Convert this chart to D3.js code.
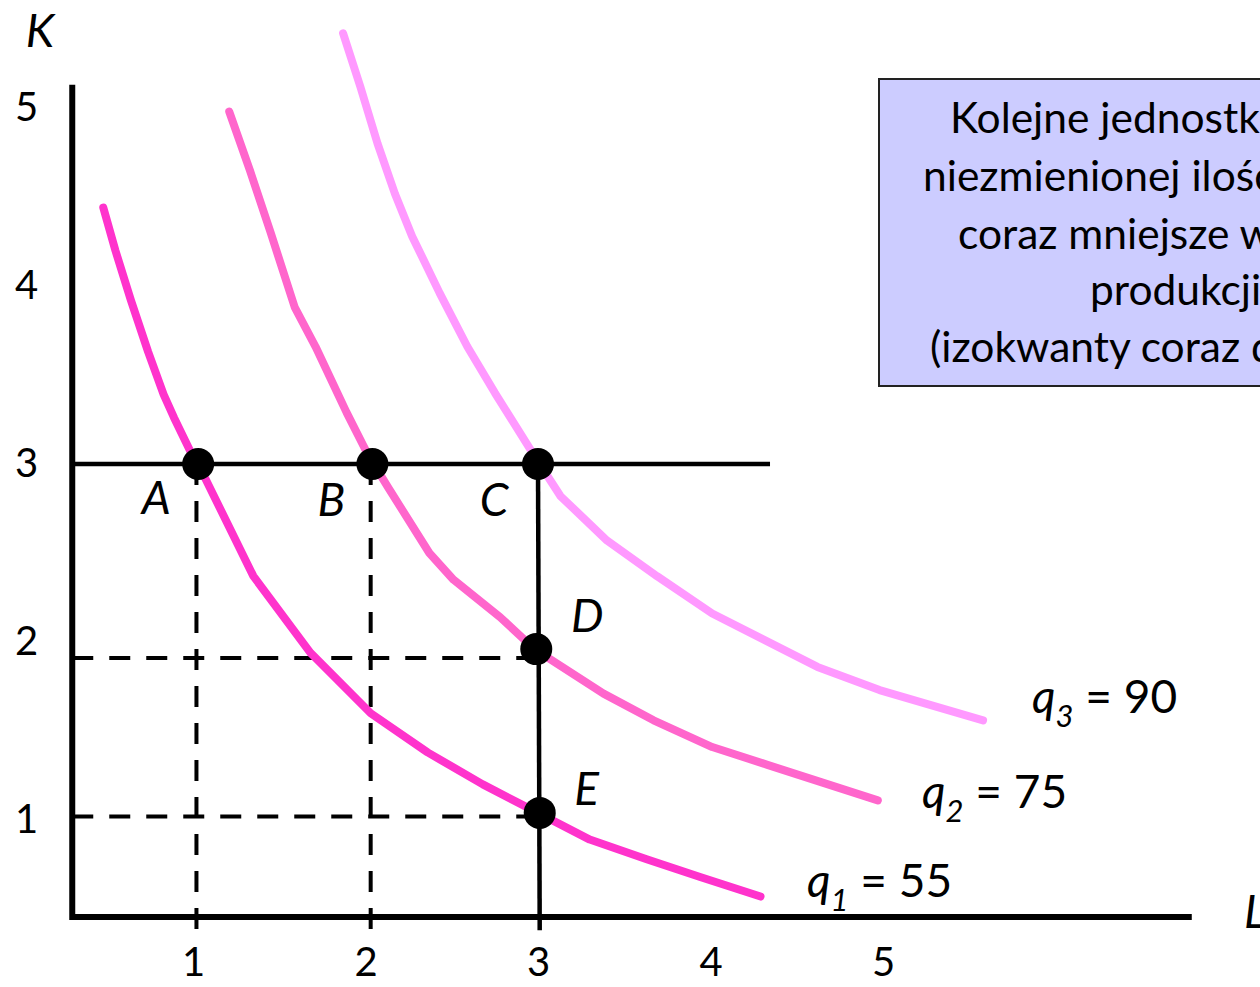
<!DOCTYPE html>
<html>
<head>
<meta charset="utf-8">
<script src="https://cdn.jsdelivr.net/npm/d3@7"></script>
<style>
  body { margin: 0; background: #fff; overflow: hidden; }
  svg { display: block; font-family: Lato, "Open Sans", sans-serif; }
</style>
</head>
<body>
<script>
// isoquants, [L, K]
const q1Points = [[0.48,4.44],[0.55,4.20],[0.64,3.92],[0.74,3.63],[0.83,3.39],[0.89,3.26],[0.99,3.06],[1.03,3.0],
                  [1.35,2.37],[1.68,1.94],[2.03,1.60],[2.36,1.38],[2.68,1.20],[3.0,1.04],[3.30,0.89],[3.63,0.78],[3.94,0.68],[4.29,0.57]];
const q2Points = [[1.21,4.98],[1.33,4.65],[1.45,4.30],[1.59,3.88],[1.71,3.66],[1.89,3.29],[2.01,3.06],[2.13,2.87],
                  [2.37,2.50],[2.51,2.35],[2.78,2.14],[2.98,1.96],[3.38,1.71],[3.67,1.56],[4.01,1.41],[4.33,1.31],[4.65,1.21],[4.97,1.11]];
const q3Points = [[1.87,5.42],[1.97,5.12],[2.07,4.80],[2.17,4.52],[2.27,4.28],[2.43,3.96],[2.59,3.66],[2.75,3.40],
                  [2.97,3.06],[3.13,2.82],[3.40,2.57],[3.69,2.37],[4.01,2.16],[4.62,1.86],[4.98,1.73],[5.58,1.56]];

const isoNames = ["1", "2", "3"];
const isoValues = [55, 75, 90];

const pointNames = ["A", "B", "C", "D", "E"];
const pointL = [1.03, 2.04, 3.0, 2.99, 3.01];
const pointK = [3.0, 3.0, 3.0, 1.96, 1.04];

const xTicks = [1, 2, 3, 4, 5];
const yTicks = [1, 2, 3, 4, 5];

const boxLines = [
  "Kolejne jednostki pracy przy",
  "niezmienionej ilości kapitału dają",
  "coraz mniejsze wzrosty",
  "produkcji",
  "(izokwanty coraz dalej od siebie)"
];

const width = 1260, height = 987;

const svg = d3.select("body").append("svg")
    .attr("width", width)
    .attr("height", height);

const x = d3.scaleLinear().domain([0, 7]).range([538 - 3 * 172.5, 538 + 4 * 172.5]);
const y = d3.scaleLinear().domain([0, 6]).range([464 + 3 * 178, 464 - 3 * 178]);

const L0 = 0.3, K0 = 0.455, Lmax = 6.79, Kmax = 5.13, Kbottom = 0.38;

// dashed guides
const dashed = [
  [[1.02, 3], [1.02, Kbottom]],
  [[2.03, 3], [2.03, Kbottom]],
  [[L0, 1.91], [2.99, 1.91]],
  [[L0, 1.02], [3.0, 1.02]]
];
svg.append("g").selectAll("line").data(dashed).enter().append("line")
    .attr("x1", d => x(d[0][0])).attr("y1", d => y(d[0][1]))
    .attr("x2", d => x(d[1][0])).attr("y2", d => y(d[1][1]))
    .attr("stroke", "#000").attr("stroke-width", 4)
    .attr("stroke-dasharray", "21,16");

// solid guides K=3 and L=3
const solid = [
  [[L0, 3], [4.345, 3]],
  [[3.0, 3], [3.01, Kbottom]]
];
svg.append("g").selectAll("line").data(solid).enter().append("line")
    .attr("x1", d => x(d[0][0])).attr("y1", d => y(d[0][1]))
    .attr("x2", d => x(d[1][0])).attr("y2", d => y(d[1][1]))
    .attr("stroke", "#000").attr("stroke-width", 4.5);

// isoquants
const line = d3.line().x(d => x(d[0])).y(d => y(d[1]));
const isoColors = ["#ff33cc", "#ff66cc", "#ff99ff"];
svg.append("g").selectAll("path").data([q1Points, q2Points, q3Points]).enter().append("path")
    .attr("d", line)
    .attr("fill", "none")
    .attr("stroke", (d, i) => isoColors[i])
    .attr("stroke-width", 8)
    .attr("stroke-linecap", "round")
    .attr("stroke-linejoin", "round");

// axes lines
svg.append("line")
    .attr("x1", x(L0)).attr("y1", y(K0)).attr("x2", x(Lmax)).attr("y2", y(K0))
    .attr("stroke", "#000").attr("stroke-width", 6);
svg.append("line")
    .attr("x1", x(L0)).attr("y1", y(K0) + 3).attr("x2", x(L0)).attr("y2", y(Kmax))
    .attr("stroke", "#000").attr("stroke-width", 6);

// tick labels
const xAxis = svg.append("g")
    .attr("transform", "translate(0," + y(K0) + ")")
    .call(d3.axisBottom(x).tickValues(xTicks).tickSize(0).tickPadding(31).tickFormat(d3.format("d")));
const yAxis = svg.append("g")
    .attr("transform", "translate(" + x(L0) + ",0)")
    .call(d3.axisLeft(y).tickValues(yTicks).tickSize(0).tickPadding(34).tickFormat(d3.format("d")));
[xAxis, yAxis].forEach(function(g){
    g.select(".domain").remove();
    g.selectAll("text").attr("font-size", 40).attr("font-family", "Lato, sans-serif").attr("fill", "#000");
});

// points
const pts = pointNames.map((n, i) => ({name: n, L: pointL[i], K: pointK[i]}));
svg.append("g").selectAll("circle").data(pts).enter().append("circle")
    .attr("cx", d => x(d.L)).attr("cy", d => y(d.K)).attr("r", 16)
    .attr("fill", "#000");

const labelOffset = {A: [-42, 50], B: [-41, 52], C: [-44, 52], D: [51, -17], E: [47, -8]};
svg.append("g").selectAll("text").data(pts).enter().append("text")
    .attr("x", d => x(d.L) + labelOffset[d.name][0])
    .attr("y", d => y(d.K) + labelOffset[d.name][1])
    .attr("text-anchor", "middle")
    .attr("font-size", 46).attr("font-style", "italic")
    .text(d => d.name);

// axis titles
svg.append("text").attr("x", 40).attr("y", 47).attr("text-anchor", "middle")
    .attr("font-size", 46).attr("font-style", "italic").text("K");
svg.append("text").attr("x", 1244).attr("y", 928)
    .attr("font-size", 46).attr("font-style", "italic").text("L");

// isoquant labels
const isoLabelPos = [[807, 897], [922, 808], [1032, 713]];
isoNames.forEach(function(n, i){
    const t = svg.append("text")
        .attr("x", isoLabelPos[i][0]).attr("y", isoLabelPos[i][1])
        .attr("font-size", 46);
    t.append("tspan").attr("font-style", "italic").text("q");
    t.append("tspan").attr("font-style", "italic").attr("font-size", 31).attr("dy", 14).text(n);
    t.append("tspan").attr("dy", -14).text(" = " + isoValues[i]);
});

// text box
svg.append("rect")
    .attr("x", 879).attr("y", 79).attr("width", 560).attr("height", 307)
    .attr("fill", "#ccccff").attr("stroke", "#222").attr("stroke-width", 2);
const boxX = [950, 923, 958, 1090, 930];
const boxY = [133, 191, 249, 305, 362];
svg.append("g").selectAll("text").data(boxLines).enter().append("text")
    .attr("x", (d, i) => boxX[i]).attr("y", (d, i) => boxY[i])
    .attr("font-size", 42.5)
    .text(d => d);
</script>
</body>
</html>
